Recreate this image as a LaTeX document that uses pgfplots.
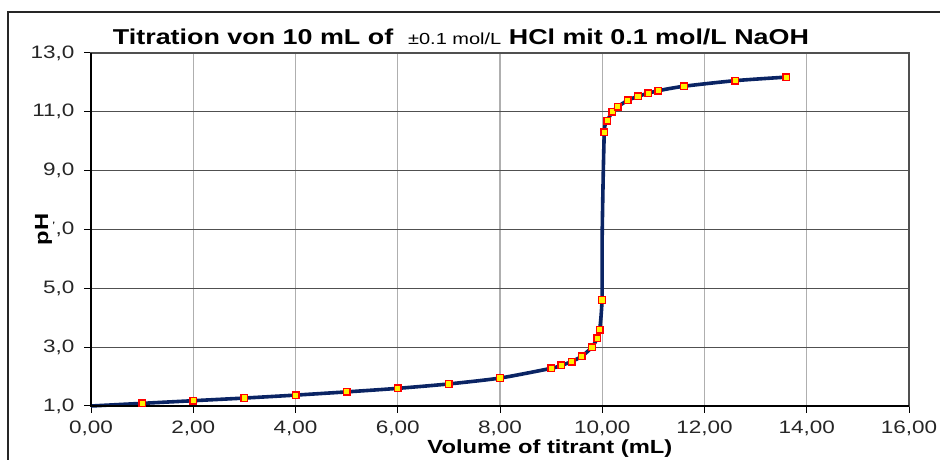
\documentclass[border=0pt]{standalone}
\usepackage{fontspec}
\setmainfont{Liberation Sans}[FakeStretch=1.25]
\usepackage{pgfplots}
\pgfplotsset{compat=1.18}
\definecolor{navy}{RGB}{10,36,100}
\definecolor{gridh}{RGB}{80,80,80}
\definecolor{gridv}{RGB}{175,175,175}
\begin{document}
\begin{tikzpicture}[x=1pt,y=1pt]
\begin{axis}[
  at={(91pt,54pt)}, anchor=south west,
  scale only axis, width=818pt, height=353pt,
  xmin=0, xmax=16, ymin=1, ymax=13,
  xtick={0,2,...,16}, ytick={1,3,...,13},
  xtick pos=left, ytick pos=left,
  tick align=outside, major tick length=7pt,
  tick style={black, line width=1pt},
  axis line style={draw=gridh, line width=1.5pt},
  xmajorgrids, ymajorgrids,
  x grid style={gridv, line width=1.2pt},
  y grid style={gridh, line width=1pt},
  /pgf/number format/assume math mode=true,
  xticklabel={\pgfmathprintnumber[fixed,fixed zerofill,precision=2,use comma]{\tick}},
  yticklabel={\pgfmathprintnumber[fixed,fixed zerofill,precision=1,use comma]{\tick}},
  ticklabel style={font=\fontsize{18}{18}\selectfont, text=black!85},
  xticklabel style={yshift=-4pt},
  yticklabel style={xshift=-6pt},
  xlabel={Volume of titrant (mL)},
  ylabel={pH},
  label style={font=\bfseries\fontsize{19}{19}\selectfont},
  xlabel style={at={(axis description cs:0.561,-0.135)}, anchor=base, inner sep=0pt},
  ylabel style={at={(axis description cs:-0.058,0.5)}, anchor=center, fill=white, inner sep=1pt},
  clip=false,
]
\addplot[navy, line width=3.6pt, smooth, tension=0.4, no marks] coordinates {
(0,1.00) (1,1.09) (2,1.18) (3,1.27) (4,1.37) (5,1.48) (6,1.60) (7,1.75) (8,1.95)
(9,2.28) (9.2,2.38) (9.4,2.51) (9.6,2.69) (9.8,3.00) (9.9,3.30) (9.95,3.60)
(9.995,4.60) (10.0,7.0) (10.04,10.30) (10.1,10.70) (10.2,11.00) (10.3,11.17)
(10.5,11.39) (10.7,11.53) (10.9,11.63) (11.1,11.72) (11.6,11.87) (12.6,12.06) (13.6,12.18)
};
\addplot[only marks, mark=square*, mark size=3.3pt, mark options={draw=red, fill=yellow, line width=1.4pt}] coordinates {
(1,1.09) (2,1.18) (3,1.27) (4,1.37) (5,1.48) (6,1.60) (7,1.75) (8,1.95)
(9,2.28) (9.2,2.38) (9.4,2.51) (9.6,2.69) (9.8,3.00) (9.9,3.30) (9.95,3.60)
(9.995,4.60) (10.04,10.30) (10.1,10.70) (10.2,11.00) (10.3,11.17)
(10.5,11.39) (10.7,11.53) (10.9,11.63) (11.1,11.72) (11.6,11.87) (12.6,12.06) (13.6,12.18)
};
\draw[black, line width=2pt] (rel axis cs:0,1) -- (rel axis cs:0,0) -- (rel axis cs:1,0);
\end{axis}
\node[anchor=center] at (461,423) {\bfseries\fontsize{21.5}{21.5}\selectfont Titration von 10 mL of\ \ {\mdseries\fontsize{16}{16}\selectfont ±0.1 mol/L} HCl mit 0.1 mol/L NaOH};
\draw[black!85, line width=1.5pt] (8,0) -- (8,448) -- (940,448);
\pgfresetboundingbox
\path (0,0) rectangle (940,460);
\end{tikzpicture}
\end{document}
